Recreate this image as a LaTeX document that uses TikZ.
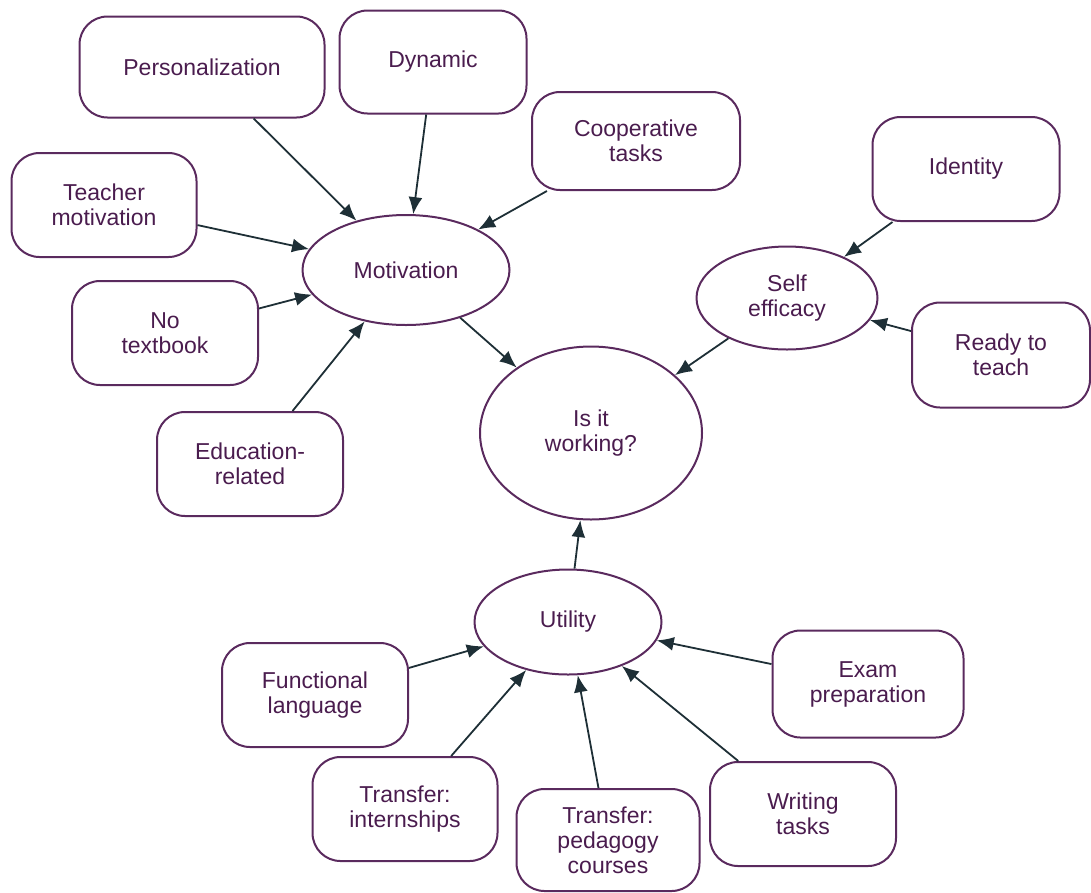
\documentclass[tikz,border=0pt]{standalone}
\usepackage{fontspec}
\setmainfont{Liberation Sans}
\usetikzlibrary{shapes.geometric,arrows.meta}
\definecolor{rim}{HTML}{5A2A5E}
\definecolor{ink}{HTML}{4A1C4E}
\definecolor{arrowcol}{HTML}{1E2F36}
\tikzset{
  idea/.style={draw=rim, line width=2pt, rounded corners=28pt, align=center,
    text=ink, font=\fontsize{23}{25}\selectfont, minimum width=186pt, minimum height=104pt},
  theme/.style={draw=rim, line width=2pt, ellipse, align=center, inner sep=0pt,
    text=ink, font=\fontsize{23}{25}\selectfont},
  link/.style={draw=arrowcol, line width=1.8pt, -{Latex[length=17pt,width=14pt]}}
}
\begin{document}
\begin{tikzpicture}[x=1pt,y=-1pt]
\useasboundingbox (0,0) rectangle (1091,892);
\node[theme, minimum width=207pt, minimum height=110pt] (motiv) at (406,270) {Motivation};
\node[theme, minimum width=181pt, minimum height=103pt] (selfeff) at (787,298) {Self\\efficacy};
\node[theme, minimum width=222pt, minimum height=173pt] (working) at (591,433) {Is it\\working?};
\node[theme, minimum width=187pt, minimum height=105pt] (utility) at (568,622) {Utility};

\node[idea, minimum width=245pt, minimum height=101pt] (person) at (202,67) {Personalization};
\node[idea, minimum width=187pt, minimum height=103pt] (dynamic) at (433,62) {Dynamic};
\node[idea, minimum width=208pt, minimum height=98pt] (coop) at (636,141) {Cooperative\\tasks};
\node[idea, minimum width=185pt] (teacher) at (104,205) {Teacher\\motivation};
\node[idea] (notext) at (165,333) {No\\textbook};
\node[idea] (edu) at (250,464) {Education-\\related};
\node[idea, minimum width=187pt] (identity) at (966,169) {Identity};
\node[idea, minimum width=178pt, minimum height=105pt] (ready) at (1001,355) {Ready to\\teach};
\node[idea] (func) at (315,695) {Functional\\language};
\node[idea, minimum width=185pt] (intern) at (405,809) {Transfer:\\internships};
\node[idea, minimum width=183pt, minimum height=102pt] (pedag) at (608,840) {Transfer:\\pedagogy\\courses};
\node[idea] (writing) at (803,814) {Writing\\tasks};
\node[idea, minimum width=191pt, minimum height=107pt] (exam) at (868,684) {Exam\\preparation};

\draw[link] (person) -- (motiv);
\draw[link] (dynamic) -- (motiv);
\draw[link] (coop) -- (motiv);
\draw[link] (teacher) -- (motiv);
\draw[link] (notext) -- (motiv);
\draw[link] (edu) -- (motiv);
\draw[link] (motiv) -- (working);
\draw[link] (identity) -- (selfeff);
\draw[link] (ready) -- (selfeff);
\draw[link] (selfeff) -- (working);
\draw[link] (utility) -- (working);
\draw[link] (func) -- (utility);
\draw[link] (intern) -- (utility);
\draw[link] (pedag) -- (utility);
\draw[link] (writing) -- (utility);
\draw[link] (exam) -- (utility);
\end{tikzpicture}
\end{document}
